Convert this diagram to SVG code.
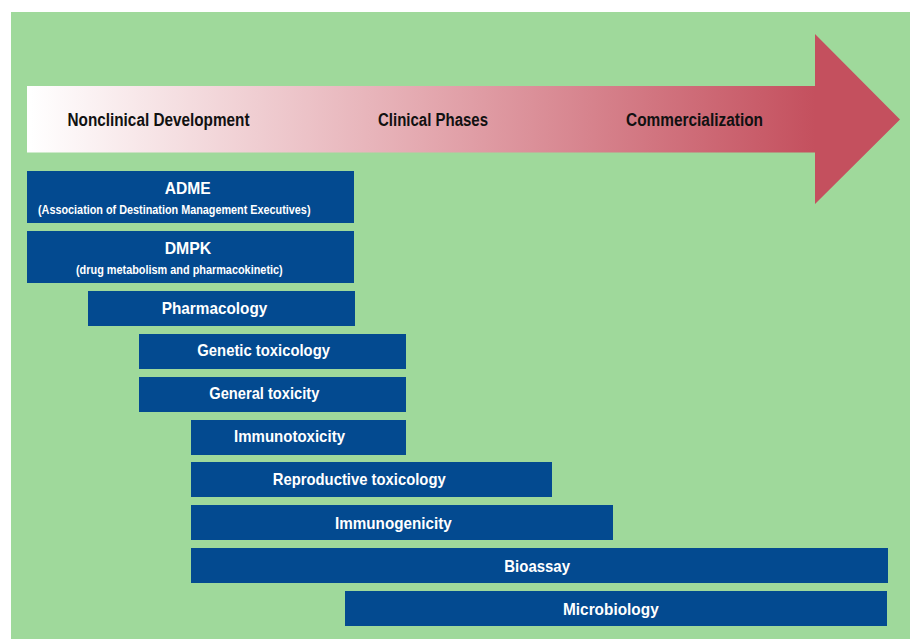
<svg xmlns="http://www.w3.org/2000/svg" width="910" height="639" viewBox="0 0 910 639">
  <defs>
    <linearGradient id="phaseFill" gradientUnits="userSpaceOnUse" x1="30" y1="0" x2="815" y2="0">
      <stop offset="0" stop-color="#FFFFFF"/>
      <stop offset="0.5" stop-color="#E4A9B0"/>
      <stop offset="1" stop-color="#C4505E"/>
    </linearGradient>
    <style>
      .bar { fill: #034A90; }
      .lbl { font-family: "Liberation Sans Narrow", "Liberation Sans", Arial, sans-serif; font-weight: bold; fill: #FFFFFF; font-size: 17px; }
      .sub { font-family: "Liberation Sans Narrow", "Liberation Sans", Arial, sans-serif; font-weight: bold; fill: #FFFFFF; font-size: 12px; }
      .phase { font-family: "Liberation Sans Narrow", "Liberation Sans", Arial, sans-serif; font-weight: bold; fill: #111111; font-size: 17.5px; }
    </style>
  </defs>

  <!-- page -->
  <rect x="0" y="0" width="910" height="639" fill="#FFFFFF"/>
  <!-- panel background -->
  <rect x="11" y="12" width="899" height="627" fill="#9FD99B"/>

  <!-- development phase arrow -->
  <g id="phase-arrow">
    <path d="M27 86 H815 V34 L900 119.5 L815 204 V152.5 H27 Z" fill="url(#phaseFill)"/>
    <text class="phase" x="67.5" y="125.5" textLength="182" lengthAdjust="spacingAndGlyphs">Nonclinical Development</text>
    <text class="phase" x="378" y="125.5" textLength="110" lengthAdjust="spacingAndGlyphs">Clinical Phases</text>
    <text class="phase" x="626" y="125.5" textLength="137" lengthAdjust="spacingAndGlyphs">Commercialization</text>
  </g>

  <!-- study bars -->
  <g id="adme">
    <rect class="bar" x="27" y="171" width="327" height="52"/>
    <text class="lbl" x="164.7" y="193.7" textLength="46" lengthAdjust="spacingAndGlyphs">ADME</text>
    <text class="sub" x="38" y="214.3" textLength="272.5" lengthAdjust="spacingAndGlyphs">(Association of Destination  Management  Executives)</text>
  </g>
  <g id="dmpk">
    <rect class="bar" x="27" y="231" width="327" height="52"/>
    <text class="lbl" x="164.7" y="253.7" textLength="46.6" lengthAdjust="spacingAndGlyphs">DMPK</text>
    <text class="sub" x="76" y="274" textLength="206.7" lengthAdjust="spacingAndGlyphs">(drug metabolism  and pharmacokinetic)</text>
  </g>
  <g id="pharmacology">
    <rect class="bar" x="88" y="291" width="267" height="35"/>
    <text class="lbl" x="161.7" y="314.3" textLength="105.6" lengthAdjust="spacingAndGlyphs">Pharmacology</text>
  </g>
  <g id="genetic-toxicology">
    <rect class="bar" x="139" y="334" width="267" height="35"/>
    <text class="lbl" x="197.3" y="356.3" textLength="132.7" lengthAdjust="spacingAndGlyphs">Genetic toxicology</text>
  </g>
  <g id="general-toxicity">
    <rect class="bar" x="139" y="377" width="267" height="35"/>
    <text class="lbl" x="209.3" y="399.3" textLength="110" lengthAdjust="spacingAndGlyphs">General toxicity</text>
  </g>
  <g id="immunotoxicity">
    <rect class="bar" x="191" y="420" width="215" height="35"/>
    <text class="lbl" x="234" y="442.3" textLength="111" lengthAdjust="spacingAndGlyphs">Immunotoxicity</text>
  </g>
  <g id="reproductive-toxicology">
    <rect class="bar" x="191" y="462" width="361" height="35"/>
    <text class="lbl" x="272.7" y="485.3" textLength="173" lengthAdjust="spacingAndGlyphs">Reproductive toxicology</text>
  </g>
  <g id="immunogenicity">
    <rect class="bar" x="191" y="505" width="422" height="35"/>
    <text class="lbl" x="335" y="528.7" textLength="116.7" lengthAdjust="spacingAndGlyphs">Immunogenicity</text>
  </g>
  <g id="bioassay">
    <rect class="bar" x="191" y="548" width="697" height="35"/>
    <text class="lbl" x="504.3" y="571.7" textLength="65.7" lengthAdjust="spacingAndGlyphs">Bioassay</text>
  </g>
  <g id="microbiology">
    <rect class="bar" x="345" y="591" width="542" height="35"/>
    <text class="lbl" x="563" y="614.7" textLength="95.7" lengthAdjust="spacingAndGlyphs">Microbiology</text>
  </g>

  <!-- no connectors between the bars -->
  <g id="connectors"/>
</svg>
